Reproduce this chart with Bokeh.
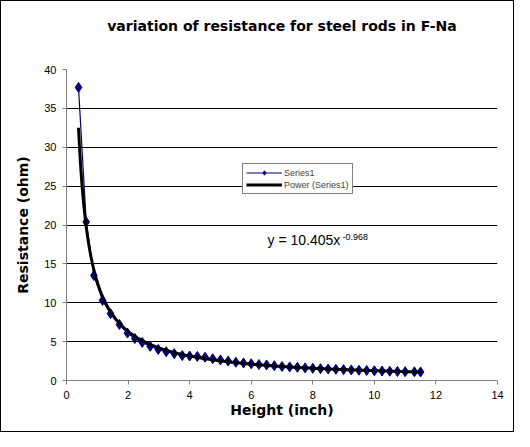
import numpy as np
from bokeh.plotting import figure
from bokeh.layouts import column
from bokeh.models import Range1d, Legend, LegendItem, Label, FixedTicker
from bokeh.core.properties import value
from bokeh.embed import file_html
from bokeh.resources import INLINE

# ---- data ----
height_in = [0.39, 0.64, 0.89, 1.17, 1.43, 1.72, 1.98, 2.22, 2.46, 2.72, 2.98,
             3.24, 3.5, 3.76, 4.0, 4.25, 4.5, 4.75, 5.0, 5.25, 5.5, 5.75, 6.0,
             6.25, 6.5, 6.75, 7.0, 7.25, 7.5, 7.75, 8.0, 8.25, 8.5, 8.75, 9.0,
             9.25, 9.5, 9.75, 10.0, 10.25, 10.5, 10.75, 11.0, 11.3, 11.5]
resistance = [37.7, 20.4, 13.5, 10.3, 8.6, 7.2, 6.1, 5.4, 4.9, 4.4, 4.0,
              3.7, 3.45, 3.2, 3.15, 3.1, 3.0, 2.8, 2.65, 2.5, 2.35, 2.25, 2.15,
              2.05, 2.0, 1.9, 1.8, 1.75, 1.7, 1.62, 1.57, 1.52, 1.48, 1.44, 1.4,
              1.36, 1.32, 1.29, 1.25, 1.22, 1.19, 1.16, 1.14, 1.12, 1.1]

title_text = "variation of resistance for steel rods in F-Na"
x_label = "Height (inch)"
y_label = "Resistance (ohm)"
x_ticks = [0, 2, 4, 6, 8, 10, 12, 14]
y_ticks = [0, 5, 10, 15, 20, 25, 30, 35, 40]
series_name = "Series1"
trend_name = "Power (Series1)"
equation_main = "y = 10.405x"
equation_exp = "-0.968"

FONT = "Liberation Sans"
BOLD_FONT = "DejaVu Sans"

W = 512
TITLE_H = 48
MAIN_H = 382

# power trendline fitted to the data (least squares in log-log space)
b, ln_a = np.polyfit(np.log(height_in), np.log(resistance), 1)
trend_x = np.linspace(min(height_in), max(height_in), 300)
trend_y = np.exp(ln_a) * trend_x ** b

# ---- title strip ----
t = figure(width=W, height=TITLE_H, output_backend="svg", toolbar_location=None,
           x_range=Range1d(0, 1), y_range=Range1d(0, 1),
           x_axis_location=None, y_axis_location=None, min_border=0)
t.outline_line_color = None
t.xgrid.visible = False
t.ygrid.visible = False
t.text(x=[0.5], y=[0.5], text=[title_text], text_align="center",
       text_baseline="middle", text_font=value(BOLD_FONT),
       text_font_size="14px", text_font_style="bold", text_color="black")

# ---- main chart ----
p = figure(width=W, height=MAIN_H, output_backend="svg", toolbar_location=None,
           x_range=Range1d(0, 14), y_range=Range1d(0, 40),
           min_border_left=65, min_border_right=16, min_border_top=20,
           min_border_bottom=51)
p.outline_line_color = None
p.background_fill_color = "white"
p.border_fill_color = "white"

r_line = p.line(height_in, resistance, line_color="#000080", line_width=1.2)
r_pts = p.scatter(height_in, resistance, marker="diamond", size=10,
                  fill_color="#000080", line_color="#000080")
r_trend = p.line(trend_x, trend_y, line_color="black", line_width=3)

for ax in (p.xaxis, p.yaxis):
    ax.axis_line_color = "#808080"
    ax.major_tick_line_color = "#808080"
    ax.minor_tick_line_color = None
    ax.major_tick_in = 0
    ax.major_tick_out = 4
    ax.major_label_text_font = FONT
    ax.major_label_text_font_size = "11px"
    ax.major_label_text_color = "black"
    ax.axis_label_text_font = BOLD_FONT
    ax.axis_label_text_font_size = "14px"
    ax.axis_label_text_font_style = "bold"
    ax.axis_label_text_color = "black"

p.xaxis.ticker = FixedTicker(ticks=x_ticks)
p.yaxis.ticker = FixedTicker(ticks=y_ticks)
p.xaxis.axis_label = x_label
p.yaxis.axis_label = y_label
p.xaxis.major_label_standoff = 6
p.xaxis.axis_label_standoff = 0
p.yaxis.major_label_standoff = 6
p.yaxis.axis_label_standoff = 10

p.xgrid.grid_line_color = None
p.ygrid.grid_line_color = "black"
p.ygrid.grid_line_width = 1

legend = Legend(items=[LegendItem(label=series_name, renderers=[r_line, r_pts]),
                       LegendItem(label=trend_name, renderers=[r_trend])],
                location=(176, 186))
legend.label_text_font = FONT
legend.label_text_font_size = "9px"
legend.label_height = 11
legend.glyph_height = 11
legend.glyph_width = 36
legend.spacing = 1
legend.padding = 3
legend.margin = 0
legend.label_standoff = 2
legend.border_line_color = "black"
legend.border_line_width = 1
legend.background_fill_color = "white"
legend.background_fill_alpha = 1.0
p.add_layout(legend, "center")

eq = Label(x=6.53, y=17.1, text=equation_main, text_font=FONT,
           text_font_size="14px", text_color="black")
p.add_layout(eq)
eq_exp = Label(x=6.53, y=17.1, x_offset=75, y_offset=8, text=equation_exp,
               text_font=FONT, text_font_size="9px", text_color="black")
p.add_layout(eq_exp)

layout = column(t, p, spacing=0, styles={"border": "1px solid black"})

open("out.html", "w").write(file_html(layout, INLINE))
